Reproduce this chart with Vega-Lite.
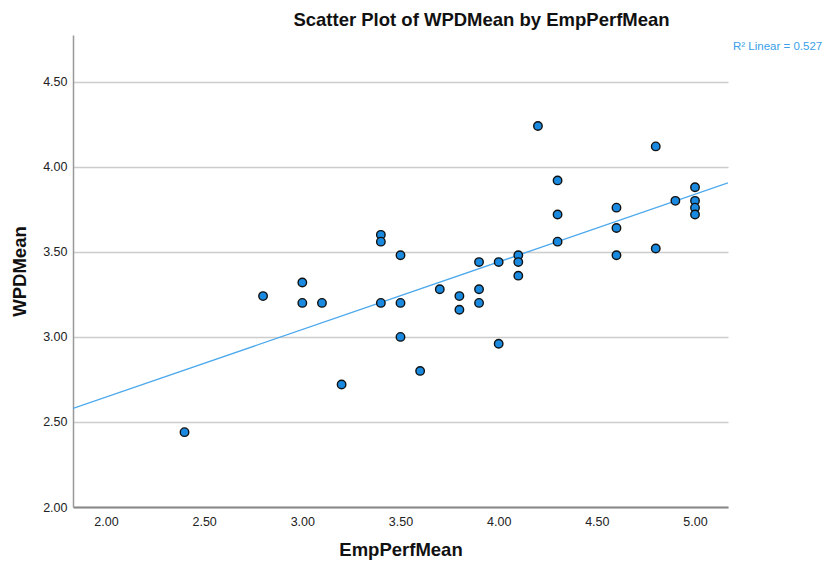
{
  "$schema": "https://vega.github.io/schema/vega-lite/v6.json",
  "autosize": "none",
  "width": 655,
  "height": 472,
  "padding": {"left": 73, "top": 35, "right": 102, "bottom": 55},
  "background": "white",
  "config": {
    "font": "Liberation Sans",
    "view": {"stroke": null}
  },
  "title": {
    "text": "Scatter Plot of WPDMean by EmpPerfMean",
    "fontSize": 18.5,
    "fontWeight": "bold",
    "color": "#111111",
    "anchor": "middle",
    "dx": 81,
    "offset": 6
  },
  "data": {
    "values": [
      {"EmpPerfMean": 2.4, "WPDMean": 2.44},
      {"EmpPerfMean": 2.8, "WPDMean": 3.24},
      {"EmpPerfMean": 3.0, "WPDMean": 3.32},
      {"EmpPerfMean": 3.0, "WPDMean": 3.2},
      {"EmpPerfMean": 3.1, "WPDMean": 3.2},
      {"EmpPerfMean": 3.2, "WPDMean": 2.72},
      {"EmpPerfMean": 3.4, "WPDMean": 3.6},
      {"EmpPerfMean": 3.4, "WPDMean": 3.56},
      {"EmpPerfMean": 3.4, "WPDMean": 3.2},
      {"EmpPerfMean": 3.5, "WPDMean": 3.48},
      {"EmpPerfMean": 3.5, "WPDMean": 3.2},
      {"EmpPerfMean": 3.5, "WPDMean": 3.0},
      {"EmpPerfMean": 3.6, "WPDMean": 2.8},
      {"EmpPerfMean": 3.7, "WPDMean": 3.28},
      {"EmpPerfMean": 3.8, "WPDMean": 3.24},
      {"EmpPerfMean": 3.8, "WPDMean": 3.16},
      {"EmpPerfMean": 3.9, "WPDMean": 3.44},
      {"EmpPerfMean": 3.9, "WPDMean": 3.28},
      {"EmpPerfMean": 3.9, "WPDMean": 3.2},
      {"EmpPerfMean": 4.0, "WPDMean": 3.44},
      {"EmpPerfMean": 4.0, "WPDMean": 2.96},
      {"EmpPerfMean": 4.1, "WPDMean": 3.48},
      {"EmpPerfMean": 4.1, "WPDMean": 3.44},
      {"EmpPerfMean": 4.1, "WPDMean": 3.36},
      {"EmpPerfMean": 4.2, "WPDMean": 4.24},
      {"EmpPerfMean": 4.3, "WPDMean": 3.92},
      {"EmpPerfMean": 4.3, "WPDMean": 3.72},
      {"EmpPerfMean": 4.3, "WPDMean": 3.56},
      {"EmpPerfMean": 4.6, "WPDMean": 3.76},
      {"EmpPerfMean": 4.6, "WPDMean": 3.64},
      {"EmpPerfMean": 4.6, "WPDMean": 3.48},
      {"EmpPerfMean": 4.8, "WPDMean": 4.12},
      {"EmpPerfMean": 4.8, "WPDMean": 3.52},
      {"EmpPerfMean": 4.9, "WPDMean": 3.8},
      {"EmpPerfMean": 5.0, "WPDMean": 3.88},
      {"EmpPerfMean": 5.0, "WPDMean": 3.8},
      {"EmpPerfMean": 5.0, "WPDMean": 3.76},
      {"EmpPerfMean": 5.0, "WPDMean": 3.72}
    ]
  },
  "encoding": {
    "x": {
      "field": "EmpPerfMean",
      "type": "quantitative",
      "scale": {"domain": [1.832, 5.168], "nice": false, "zero": false},
      "axis": {
        "title": "EmpPerfMean",
        "titleFontSize": 18.5,
        "titleFontWeight": "bold",
        "titleColor": "#111111",
        "titlePadding": 13,
        "values": [2, 2.5, 3, 3.5, 4, 4.5, 5],
        "format": ".2f",
        "labelFontSize": 12.5,
        "labelColor": "#222222",
        "labelPadding": 8,
        "ticks": false,
        "grid": false,
        "domainColor": "#888888",
        "domainWidth": 2
      }
    },
    "y": {
      "field": "WPDMean",
      "type": "quantitative",
      "scale": {"domain": [2.0, 4.775], "nice": false, "zero": false},
      "axis": {
        "title": "WPDMean",
        "titleFontSize": 18.5,
        "titleFontWeight": "bold",
        "titleColor": "#111111",
        "titlePadding": 13,
        "values": [2, 2.5, 3, 3.5, 4, 4.5],
        "format": ".2f",
        "labelFontSize": 12.5,
        "labelColor": "#222222",
        "labelPadding": 6,
        "ticks": false,
        "grid": true,
        "gridColor": "#cccccc",
        "gridWidth": 1.5,
        "domainColor": "#999999",
        "domainWidth": 1.5
      }
    }
  },
  "layer": [
    {
      "transform": [
        {"regression": "WPDMean", "on": "EmpPerfMean", "method": "linear", "extent": [1.832, 5.168]}
      ],
      "mark": {"type": "line", "color": "#4aa8ec", "strokeWidth": 1.3, "clip": true}
    },
    {
      "mark": {"type": "point", "filled": true, "fill": "#1a8ae0", "stroke": "#111111", "strokeWidth": 1.4, "size": 72, "opacity": 1, "shape": "circle"}
    },
    {
      "data": {"values": [{"label": "R² Linear = 0.527", "EmpPerfMean": 5.168, "WPDMean": 4.705}]},
      "mark": {"type": "text", "align": "left", "baseline": "middle", "dx": 5, "fontSize": 11.5, "color": "#3a9fe8", "clip": false},
      "encoding": {"text": {"field": "label"}}
    }
  ]
}
